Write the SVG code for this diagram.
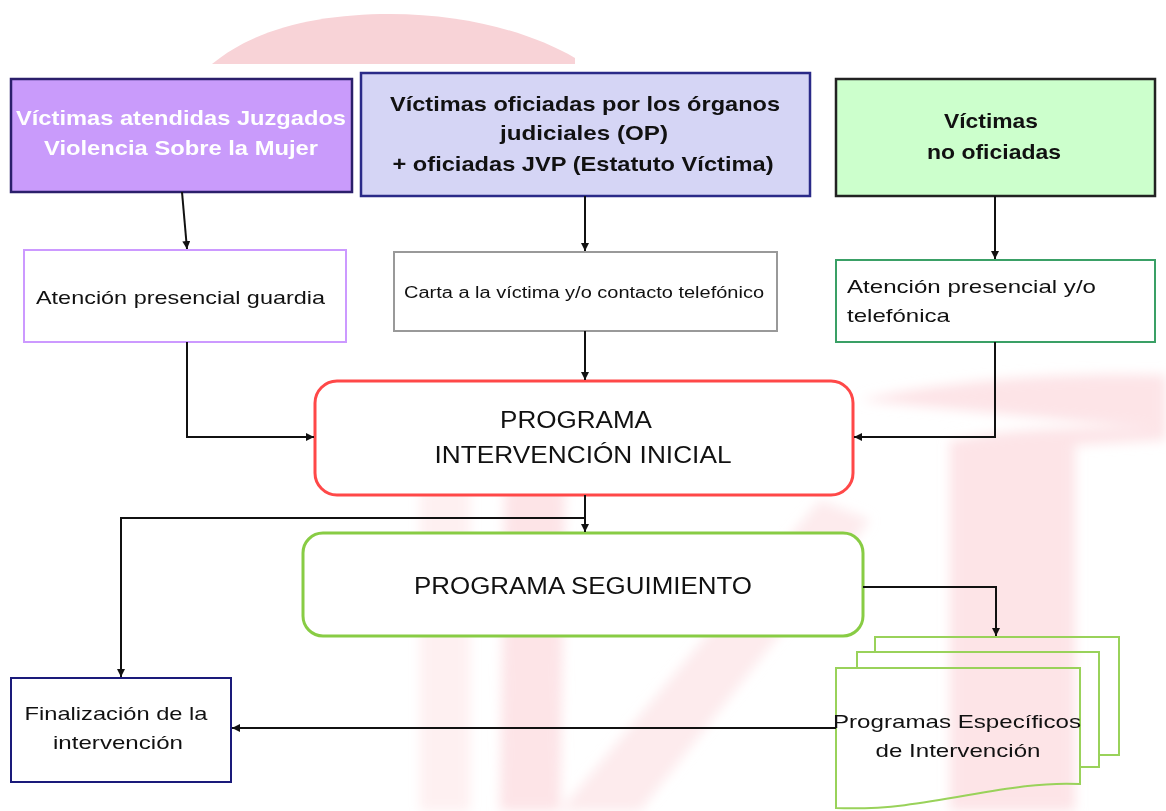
<svg xmlns="http://www.w3.org/2000/svg" width="1166" height="811" viewBox="0 0 1166 811">
<defs>
<style>
.t{font-family:"Liberation Sans",Arial,sans-serif;fill:#111;}
.b{font-weight:bold;}
.c{text-anchor:middle;}
.con{fill:none;stroke:#111;stroke-width:2;}
.wm{fill:#fcdde1;stroke:none;}
.doc{fill:none;stroke:#99d25a;stroke-width:2;}
</style>
<filter id="soft" x="-10%" y="-10%" width="120%" height="120%"><feGaussianBlur stdDeviation="6"/></filter>
<marker id="ah" viewBox="0 0 10 10" refX="10" refY="5" markerWidth="8" markerHeight="8" orient="auto" markerUnits="userSpaceOnUse">
<path d="M0,0 L10,5 L0,10 z" fill="#111"/>
</marker>
</defs>
<rect width="1166" height="811" fill="#ffffff"/>
<g id="watermark">
<path class="wm" d="M212,64 C255,28 320,14 390,14 C465,14 530,32 575,58 V64 Z" style="fill:#f8d3d7"/>
<g filter="url(#soft)">
<path class="wm" opacity="0.8" d="M505,480 L565,480 L560,811 L500,811 Z"/>
<path class="wm" opacity="0.6" d="M560,811 L640,811 L870,520 L820,500 Z"/>
<path class="wm" opacity="0.8" d="M860,400 C950,380 1060,372 1166,375 V430 C1080,425 1000,430 960,440 L950,440 L950,811 L1075,811 L1075,445 L1166,440 V430 Z"/>
<path class="wm" opacity="0.45" d="M420,490 L470,480 L470,811 L420,811 Z"/>
</g>
</g>
<g id="n1">
<rect x="11" y="79" width="341" height="113" fill="#c99bfb" stroke="#2b1f6b" stroke-width="2.5"/>
<text class="t b" x="181" y="125" font-size="21" text-anchor="middle" style="fill:#fff" textLength="330" lengthAdjust="spacingAndGlyphs">Víctimas atendidas Juzgados</text>
<text class="t b" x="181" y="155" font-size="21" text-anchor="middle" style="fill:#fff" textLength="274" lengthAdjust="spacingAndGlyphs">Violencia Sobre la Mujer</text>
</g>
<g id="n2">
<rect x="361" y="73" width="449" height="123" fill="#d5d5f5" stroke="#2a2a88" stroke-width="2.5"/>
<text class="t b c" x="585" y="111" font-size="21" textLength="390" lengthAdjust="spacingAndGlyphs">Víctimas oficiadas por los órganos</text>
<text class="t b c" x="584" y="140" font-size="21" textLength="168" lengthAdjust="spacingAndGlyphs">judiciales (OP)</text>
<text class="t b c" x="583" y="171" font-size="21" textLength="381" lengthAdjust="spacingAndGlyphs">+ oficiadas JVP (Estatuto Víctima)</text>
</g>
<g id="n3">
<rect x="836" y="79" width="319" height="117" fill="#ccffcc" stroke="#222" stroke-width="2.5"/>
<text class="t b c" x="991" y="128" font-size="21" textLength="94" lengthAdjust="spacingAndGlyphs">Víctimas</text>
<text class="t b c" x="994" y="159" font-size="21" textLength="134" lengthAdjust="spacingAndGlyphs">no oficiadas</text>
</g>
<g id="n4">
<rect x="24" y="250" width="322" height="92" fill="#fff" stroke="#cc99ff" stroke-width="2"/>
<text class="t" x="36" y="304" font-size="19" textLength="289" lengthAdjust="spacingAndGlyphs">Atención presencial guardia</text>
</g>
<g id="n5">
<rect x="394" y="252" width="383" height="79" fill="#fff" stroke="#999" stroke-width="2"/>
<text class="t" x="404" y="298" font-size="16" textLength="360" lengthAdjust="spacingAndGlyphs">Carta a la víctima  y/o  contacto  telefónico</text>
</g>
<g id="n6">
<rect x="836" y="260" width="319" height="82" fill="#fff" stroke="#3aa066" stroke-width="2"/>
<text class="t" x="847" y="293" font-size="19" textLength="249" lengthAdjust="spacingAndGlyphs">Atención presencial y/o</text>
<text class="t" x="847" y="322" font-size="19" textLength="103" lengthAdjust="spacingAndGlyphs">telefónica</text>
</g>
<g id="n7">
<rect x="315" y="381" width="538" height="114" rx="22" fill="#fff" stroke="#ff4848" stroke-width="3"/>
<text class="t c" x="576" y="428" font-size="23" textLength="152" lengthAdjust="spacingAndGlyphs">PROGRAMA</text>
<text class="t c" x="583" y="463" font-size="23" textLength="297" lengthAdjust="spacingAndGlyphs">INTERVENCIÓN   INICIAL</text>
</g>
<g id="n8">
<rect x="303" y="533" width="560" height="103" rx="20" fill="#fff" stroke="#88cc44" stroke-width="3"/>
<text class="t c" x="583" y="594" font-size="23" textLength="338" lengthAdjust="spacingAndGlyphs">PROGRAMA  SEGUIMIENTO</text>
</g>
<g id="n9">
<rect x="11" y="678" width="220" height="104" fill="#fff" stroke="#1a1a7a" stroke-width="2"/>
<text class="t c" x="116" y="720" font-size="19" textLength="183" lengthAdjust="spacingAndGlyphs">Finalización de la</text>
<text class="t c" x="118" y="749" font-size="19" textLength="130" lengthAdjust="spacingAndGlyphs">intervención</text>
</g>
<g id="n10">
<path class="doc" d="M875,652 V637 H1119 V755 H1099"/>
<path class="doc" d="M857,668 V652 H1099 V767 H1080"/>
<path class="doc" d="M836,668 H1080 V784 C1000,780 930,812 836,808 Z" fill="#fff" fill-opacity="0.4"/>
<text class="t c" x="957" y="728" font-size="19" textLength="248" lengthAdjust="spacingAndGlyphs">Programas Específicos</text>
<text class="t c" x="958" y="757" font-size="19" textLength="165" lengthAdjust="spacingAndGlyphs">de Intervención</text>
</g>
<g id="connectors">
<path class="con" d="M182,192 L187,249" marker-end="url(#ah)"/>
<path class="con" d="M585,196 V251" marker-end="url(#ah)"/>
<path class="con" d="M995,196 V259" marker-end="url(#ah)"/>
<path class="con" d="M187,342 V437 H314" marker-end="url(#ah)"/>
<path class="con" d="M585,331 V380" marker-end="url(#ah)"/>
<path class="con" d="M995,342 V437 H854" marker-end="url(#ah)"/>
<path class="con" d="M585,495 V532" marker-end="url(#ah)"/>
<path class="con" d="M585,518 H121 V677" marker-end="url(#ah)"/>
<path class="con" d="M863,587 H996 V636" marker-end="url(#ah)"/>
<path class="con" d="M836,728 H232" marker-end="url(#ah)"/>
</g>
</svg>
